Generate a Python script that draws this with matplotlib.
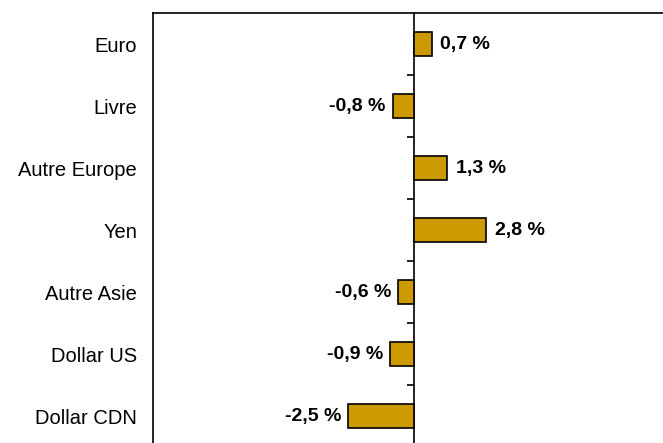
import matplotlib
matplotlib.use("Agg")
import matplotlib.pyplot as plt
import numpy as np

categories = ["Euro", "Livre", "Autre Europe", "Yen", "Autre Asie", "Dollar US", "Dollar CDN"]
values = [0.7, -0.8, 1.3, 2.8, -0.6, -0.9, -2.5]

plt.rcParams['font.family'] = ['Liberation Sans', 'DejaVu Sans']

fig = plt.figure(figsize=(6.63, 4.43), dpi=100)
ax = fig.add_axes([153/663, -4/443, 521/663, 434/443])

y = np.arange(len(categories))
bars = ax.barh(y, values, height=0.39, color="#CC9900", edgecolor="black", linewidth=1.2, zorder=3)

ax.set_xlim(-10, 10)
ax.set_ylim(len(categories) - 0.5, -0.5)

ax.set_xticks([])
ax.set_yticks(y)
ax.set_yticklabels(categories, fontsize=14.5)
ax.tick_params(axis='y', length=0, pad=11.5)

for sp in ax.spines.values():
    sp.set_linewidth(1.2)
    sp.set_color("black")

# zero axis with boundary ticks
sec = ax.secondary_yaxis(0.5)
sec.set_yticks(np.arange(len(categories) - 1) + 0.5)
sec.set_yticklabels([])
sec.tick_params(axis='y', direction='in', length=5, width=1.2, color='black')
for sp in sec.spines.values():
    sp.set_linewidth(1.2)

for b, v in zip(bars, values):
    label = f"{v:.1f} %".replace(".", ",")
    yc = b.get_y() + b.get_height() / 2
    if v >= 0:
        ax.annotate(label, xy=(v, yc), xytext=(6, 0), textcoords="offset points",
                    ha="left", va="center", fontsize=14, fontweight="bold")
    else:
        ax.annotate(label, xy=(v, yc), xytext=(-5, 0), textcoords="offset points",
                    ha="right", va="center", fontsize=14, fontweight="bold")

fig.savefig("out.png", dpi=100)
